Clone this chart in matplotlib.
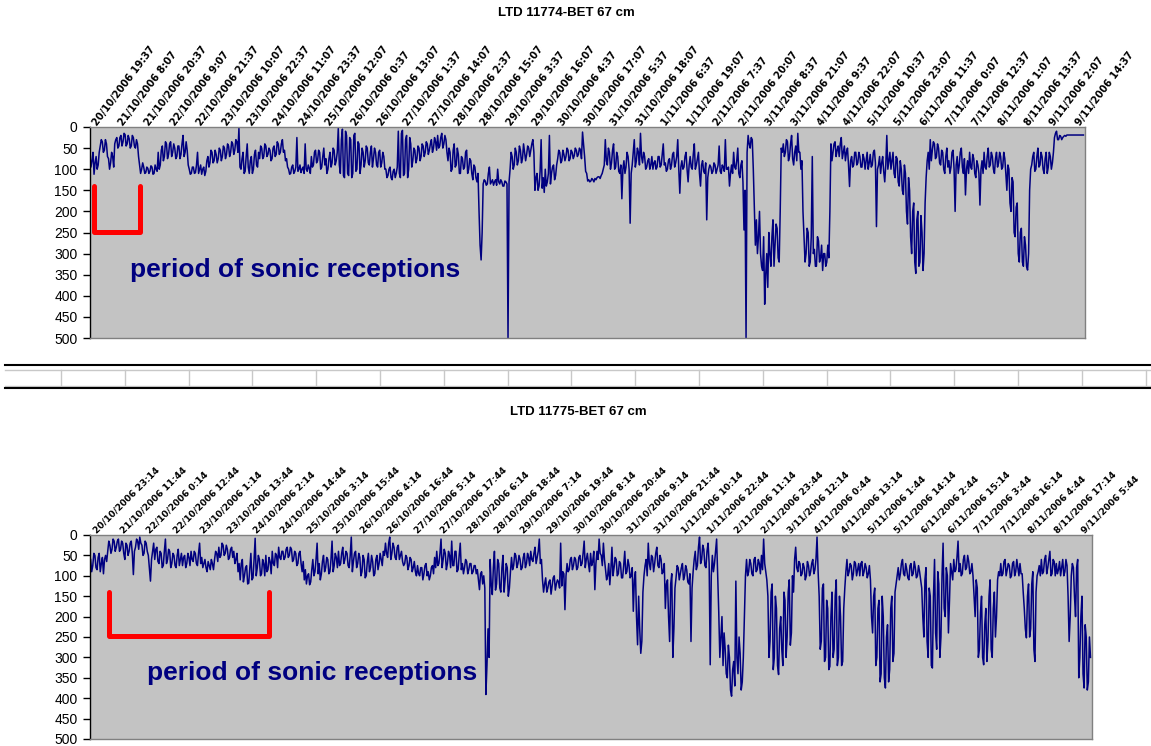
import numpy as np
import matplotlib
matplotlib.use("Agg")
import matplotlib.pyplot as plt
from matplotlib.lines import Line2D

# ---------------------------------------------------------------- data
# Depth readings (cm) every 30 minutes: *_depth holds the readings on the
# hour, *_depth_half the readings half an hour later.
# Hours are counted from the first axis label.
top_title = "LTD 11774-BET 67 cm"
top_t0 = -2.45
top_depth = [
    65, 80, 112, 70, 90, 45, 35, 55, 40, 75,
    85, 70, 40, 25, 45, 20, 35, 18, 40, 28,
    45, 25, 50, 40, 90, 100, 95, 108, 98, 105,
    95, 110, 100, 60, 90, 45, 70, 40, 65, 35,
    60, 50, 70, 45, 65, 20, 60, 55, 100, 110,
    95, 108, 60, 100, 112, 95, 105, 70, 85, 60,
    80, 65, 75, 55, 70, 50, 65, 45, 60, 40,
    55, 35, 3, 100, 60, 105, 40, 110, 70, 100,
    55, 95, 75, 50, 70, 45, 65, 55, 75, 45,
    65, 40, 60, 30, 55, 75, 100, 110, 90, 105,
    25, 100, 108, 95, 40, 105, 98, 70, 90, 55,
    80, 60, 95, 50, 75, 100, 60, 85, 55, 80,
    3, 110, 5, 120, 20, 115, 30, 110, 15, 100,
    40, 90, 60, 80, 50, 90, 45, 75, 60, 95,
    55, 85, 70, 100, 115, 95, 125, 100, 110, 10,
    120, 8, 110, 20, 100, 40, 80, 55, 75, 50,
    70, 45, 60, 40, 55, 30, 50, 35, 20, 45,
    15, 40, 30, 80, 60, 100, 40, 90, 65, 110,
    75, 95, 55, 100, 80, 125, 95, 130, 200, 315,
    135, 128, 135, 95, 130, 138, 125, 100, 135, 130,
    140, 130, 500, 100, 70, 90, 60, 80, 55, 75,
    60, 65, 50, 55, 30, 150, 110, 140, 30, 120,
    100, 130, 20, 110, 90, 115, 75, 60, 80, 65,
    70, 55, 75, 60, 68, 55, 65, 55, 12, 70,
    110, 125, 128, 125, 122, 120, 118, 115, 100, 30,
    90, 60, 85, 40, 95, 70, 110, 170, 80, 95,
    70, 228, 90, 30, 80, 60, 15, 85, 70, 95,
    75, 90, 100, 80, 95, 70, 90, 40, 85, 100,
    75, 90, 60, 85, 30, 157, 80, 95, 60, 130,
    70, 100, 40, 90, 60, 140, 80, 110, 220, 100,
    95, 105, 90, 100, 45, 110, 95, 30, 100, 140,
    90, 60, 100, 50, 120, 80, 244, 500, 20, 50,
    30, 190, 220, 260, 300, 340, 420, 300, 250, 330,
    220, 280, 240, 320, 50, 40, 60, 35, 70, 20,
    90, 45, 15, 60, 80, 260, 300, 250, 320, 70,
    290, 330, 270, 310, 340, 300, 320, 310, 40, 60,
    35, 55, 70, 25, 60, 80, 50, 141, 70, 90,
    60, 85, 70, 95, 75, 80, 100, 65, 90, 55,
    236, 90, 110, 70, 130, 20, 80, 100, 60, 120,
    75, 140, 100, 160, 110, 230, 150, 300, 180, 347,
    200, 320, 250, 300, 120, 60, 30, 55, 40, 70,
    50, 90, 60, 110, 50, 80, 95, 55, 200, 70,
    90, 50, 110, 161, 80, 60, 100, 75, 120, 90,
    185, 80, 60, 100, 50, 90, 70, 110, 60, 85,
    70, 95, 75, 150, 100, 200, 130, 260, 180, 320,
    240, 330, 280, 339, 150, 90, 60, 100, 50, 90,
    70, 110, 60, 95, 70, 85, 25, 10, 30, 22,
    25, 20, 19, 19, 19, 19, 19, 19, 19, 19,
    19,
]
top_depth_half = [
    95, 60, 85, 100, 60, 30, 60, 30, 70, 100,
    60, 95, 30, 50, 25, 45, 15, 45, 20, 50,
    20, 45, 30, 70, 110, 85, 110, 95, 110, 92,
    112, 90, 105, 100, 55, 80, 35, 75, 40, 70,
    40, 75, 45, 75, 40, 70, 35, 90, 112, 95,
    110, 90, 110, 90, 100, 115, 80, 95, 55, 85,
    55, 85, 50, 80, 45, 75, 40, 70, 35, 65,
    30, 60, 95, 75, 110, 70, 95, 80, 110, 65,
    90, 60, 45, 75, 40, 70, 50, 80, 50, 70,
    35, 65, 40, 60, 80, 95, 112, 95, 110, 95,
    105, 90, 100, 110, 100, 90, 110, 95, 60, 85,
    55, 100, 70, 90, 110, 75, 95, 50, 90, 60,
    90, 30, 115, 10, 110, 25, 120, 20, 105, 35,
    110, 50, 95, 45, 85, 60, 95, 50, 90, 60,
    95, 60, 100, 120, 100, 120, 105, 120, 95, 110,
    15, 115, 30, 120, 25, 95, 50, 85, 45, 80,
    40, 70, 35, 65, 40, 60, 25, 55, 50, 25,
    50, 20, 60, 50, 105, 55, 95, 50, 110, 70,
    100, 60, 110, 75, 110, 90, 120, 110, 280, 250,
    125, 138, 110, 135, 125, 130, 138, 130, 125, 140,
    128, 135, 130, 60, 100, 50, 90, 45, 85, 40,
    80, 45, 70, 40, 60, 120, 150, 105, 145, 155,
    140, 110, 135, 95, 125, 90, 55, 85, 55, 80,
    50, 80, 55, 75, 50, 70, 50, 75, 40, 105,
    128, 130, 122, 130, 125, 118, 122, 110, 90, 80,
    50, 100, 55, 100, 60, 105, 90, 100, 110, 60,
    100, 110, 60, 95, 50, 90, 70, 60, 100, 80,
    100, 70, 85, 100, 70, 95, 65, 90, 105, 80,
    100, 65, 95, 70, 100, 95, 100, 70, 100, 90,
    95, 65, 100, 75, 110, 90, 105, 85, 120, 90,
    110, 85, 110, 90, 105, 90, 105, 100, 95, 110,
    110, 95, 80, 110, 90, 130, 150, 60, 40, 25,
    100, 280, 300, 200, 330, 260, 350, 380, 300, 260,
    330, 230, 310, 200, 60, 70, 30, 80, 40, 75,
    60, 80, 60, 100, 200, 320, 240, 330, 260, 300,
    330, 260, 320, 280, 300, 330, 280, 200, 80, 40,
    70, 45, 40, 75, 45, 60, 90, 80, 95, 60,
    90, 60, 95, 65, 100, 60, 85, 95, 60, 85,
    100, 70, 85, 105, 90, 100, 60, 80, 110, 70,
    130, 80, 150, 90, 200, 120, 260, 200, 320, 220,
    330, 210, 340, 180, 80, 100, 80, 35, 75, 40,
    85, 55, 100, 70, 95, 110, 60, 100, 90, 110,
    60, 95, 75, 100, 110, 95, 65, 110, 80, 110,
    100, 110, 95, 70, 95, 60, 100, 75, 95, 60,
    100, 60, 110, 90, 180, 120, 250, 190, 300, 250,
    320, 260, 330, 300, 100, 70, 105, 70, 95, 60,
    100, 75, 110, 60, 100, 60, 15, 30, 20, 30,
    22, 22, 19, 19, 19, 19, 19, 19, 19, 19,
]

bottom_title = "LTD 11775-BET 67 cm"
bottom_t0 = -2.0
bottom_depth = [
    60, 75, 50, 85, 45, 70, 95, 50, 40, 25,
    35, 15, 30, 10, 35, 20, 60, 25, 40, 15,
    97, 30, 15, 5, 25, 45, 20, 50, 113, 40,
    60, 30, 70, 45, 75, 10, 60, 40, 70, 50,
    80, 35, 60, 75, 50, 70, 55, 40, 65, 45,
    75, 20, 55, 70, 80, 65, 85, 70, 60, 45,
    30, 50, 25, 45, 35, 55, 30, 40, 60, 90,
    110, 60, 100, 75, 118, 45, 105, 8, 80, 60,
    95, 70, 50, 85, 65, 40, 75, 50, 30, 60,
    40, 55, 30, 50, 35, 60, 45, 70, 40, 90,
    110, 120, 95, 115, 60, 90, 20, 70, 95, 50,
    80, 60, 90, 15, 75, 55, 40, 70, 30, 60,
    45, 80, 5, 65, 40, 70, 55, 90, 60, 100,
    45, 80, 65, 95, 50, 70, 60, 40, 20, 55,
    5, 45, 30, 60, 25, 50, 65, 70, 55, 75,
    60, 80, 90, 75, 100, 80, 95, 70, 90, 100,
    75, 55, 40, 70, 10, 60, 45, 70, 50, 15,
    75, 40, 85, 20, 70, 80, 65, 85, 70, 90,
    75, 85, 134, 90, 100, 391, 230, 60, 146, 40,
    120, 70, 140, 50, 110, 80, 130, 55, 75, 50,
    70, 60, 80, 45, 70, 55, 40, 65, 30, 55,
    10, 60, 140, 105, 130, 110, 125, 100, 120, 115,
    20, 90, 183, 70, 85, 55, 75, 60, 80, 50,
    70, 15, 60, 70, 45, 65, 134, 40, 10, 50,
    20, 85, 100, 122, 30, 80, 60, 95, 70, 105,
    40, 90, 75, 100, 187, 90, 269, 230, 260, 100,
    60, 20, 85, 55, 70, 30, 80, 60, 90, 180,
    110, 261, 95, 230, 105, 80, 95, 70, 100, 85,
    120, 261, 90, 40, 75, 5, 60, 35, 80, 20,
    318, 50, 70, 10, 190, 250, 320, 280, 350, 300,
    395, 310, 113, 340, 290, 360, 200, 60, 90, 70,
    100, 55, 85, 70, 50, 10, 90, 150, 260, 120,
    300, 180, 342, 200, 320, 160, 250, 110, 240, 140,
    30, 90, 70, 95, 80, 100, 75, 90, 60, 85,
    5, 150, 260, 120, 300, 180, 322, 140, 280, 110,
    300, 200, 310, 130, 60, 90, 75, 95, 70, 85,
    100, 65, 90, 80, 95, 110, 240, 130, 300, 160,
    340, 200, 375, 220, 330, 150, 290, 120, 80, 95,
    60, 100, 85, 110, 70, 95, 80, 100, 90, 130,
    250, 80, 300, 150, 326, 60, 280, 120, 250, 20,
    200, 100, 160, 90, 60, 85, 15, 70, 95, 50,
    80, 65, 90, 100, 200, 130, 280, 150, 318, 180,
    260, 110, 300, 140, 200, 90, 70, 95, 60, 85,
    75, 100, 65, 90, 80, 70, 95, 180, 252, 120,
    230, 90, 310, 100, 75, 60, 90, 50, 80, 40,
    95, 65, 70, 85, 100, 60, 90, 75, 261, 100,
    80, 200, 60, 300, 150, 375, 250, 360, 300,
]
bottom_depth_half = [
    90, 45, 80, 55, 90, 55, 60, 65, 15, 45,
    10, 40, 15, 40, 15, 45, 20, 50, 20, 45,
    40, 10, 35, 20, 50, 15, 40, 80, 60, 20,
    35, 65, 40, 80, 40, 70, 35, 80, 45, 75,
    50, 75, 45, 55, 80, 45, 75, 60, 40, 70,
    45, 70, 80, 60, 90, 75, 60, 85, 40, 65,
    55, 20, 50, 25, 60, 35, 55, 70, 45, 70,
    70, 115, 80, 120, 80, 110, 60, 100, 50, 100,
    60, 100, 90, 55, 95, 70, 45, 80, 55, 40,
    60, 35, 55, 30, 65, 40, 75, 45, 70, 65,
    85, 100, 122, 85, 100, 60, 95, 110, 65, 90,
    55, 95, 60, 90, 45, 80, 75, 45, 70, 40,
    75, 50, 90, 45, 80, 45, 100, 50, 105, 65,
    90, 50, 100, 60, 85, 45, 75, 50, 45, 20,
    60, 20, 55, 30, 60, 40, 75, 50, 85, 55,
    90, 65, 100, 95, 80, 110, 75, 100, 110, 80,
    95, 80, 75, 45, 80, 35, 85, 40, 80, 75,
    40, 90, 50, 85, 95, 60, 95, 70, 95, 75,
    95, 110, 95, 120, 130, 320, 300, 120, 80, 135,
    60, 130, 80, 140, 70, 150, 90, 85, 45, 80,
    50, 85, 55, 80, 45, 75, 60, 45, 70, 40,
    70, 110, 120, 140, 115, 145, 105, 135, 110, 130,
    125, 95, 100, 90, 60, 85, 55, 85, 55, 75,
    45, 80, 45, 90, 75, 40, 70, 60, 45, 75,
    60, 110, 70, 85, 100, 55, 100, 65, 105, 75,
    95, 60, 105, 80, 110, 200, 150, 290, 140, 75,
    100, 70, 50, 90, 45, 75, 50, 95, 70, 120,
    200, 120, 300, 130, 75, 110, 80, 110, 75, 115,
    95, 130, 60, 85, 30, 70, 25, 75, 40, 70,
    100, 90, 40, 100, 300, 200, 240, 340, 270, 380,
    330, 370, 300, 250, 380, 300, 100, 100, 60, 95,
    60, 90, 60, 95, 85, 70, 110, 300, 140, 330,
    150, 320, 230, 280, 140, 300, 140, 270, 100, 60,
    80, 65, 100, 70, 110, 65, 100, 70, 95, 60,
    90, 280, 130, 310, 160, 330, 200, 300, 150, 320,
    150, 320, 180, 90, 100, 70, 110, 65, 100, 70,
    70, 100, 70, 105, 75, 200, 150, 320, 180, 360,
    150, 350, 250, 360, 180, 310, 140, 100, 110, 70,
    95, 70, 105, 75, 100, 65, 105, 75, 110, 200,
    110, 260, 130, 320, 150, 240, 90, 300, 100, 180,
    80, 240, 70, 110, 90, 55, 90, 100, 60, 85,
    50, 95, 70, 150, 110, 300, 190, 300, 220, 310,
    150, 280, 180, 250, 110, 100, 100, 65, 100, 70,
    105, 70, 100, 60, 100, 95, 140, 230, 150, 250,
    120, 280, 140, 90, 100, 95, 60, 95, 60, 100,
    60, 100, 95, 65, 80, 100, 60, 150, 200, 70,
    150, 80, 350, 200, 340, 220, 380, 250,
]

top_labels = [
    "20/10/2006 19:37", "21/10/2006 8:07", "21/10/2006 20:37", "22/10/2006 9:07",
    "22/10/2006 21:37", "23/10/2006 10:07", "23/10/2006 22:37", "24/10/2006 11:07",
    "24/10/2006 23:37", "25/10/2006 12:07", "26/10/2006 0:37", "26/10/2006 13:07",
    "27/10/2006 1:37", "27/10/2006 14:07", "28/10/2006 2:37", "28/10/2006 15:07",
    "29/10/2006 3:37", "29/10/2006 16:07", "30/10/2006 4:37", "30/10/2006 17:07",
    "31/10/2006 5:37", "31/10/2006 18:07", "1/11/2006 6:37", "1/11/2006 19:07",
    "2/11/2006 7:37", "2/11/2006 20:07", "3/11/2006 8:37", "3/11/2006 21:07",
    "4/11/2006 9:37", "4/11/2006 22:07", "5/11/2006 10:37", "5/11/2006 23:07",
    "6/11/2006 11:37", "7/11/2006 0:07", "7/11/2006 12:37", "8/11/2006 1:07",
    "8/11/2006 13:37", "9/11/2006 2:07", "9/11/2006 14:37",
]
bottom_labels = [
    "20/10/2006 23:14", "21/10/2006 11:44", "22/10/2006 0:14", "22/10/2006 12:44",
    "23/10/2006 1:14", "23/10/2006 13:44", "24/10/2006 2:14", "24/10/2006 14:44",
    "25/10/2006 3:14", "25/10/2006 15:44", "26/10/2006 4:14", "26/10/2006 16:44",
    "27/10/2006 5:14", "27/10/2006 17:44", "28/10/2006 6:14", "28/10/2006 18:44",
    "29/10/2006 7:14", "29/10/2006 19:44", "30/10/2006 8:14", "30/10/2006 20:44",
    "31/10/2006 9:14", "31/10/2006 21:44", "1/11/2006 10:14", "1/11/2006 22:44",
    "2/11/2006 11:14", "2/11/2006 23:44", "3/11/2006 12:14", "4/11/2006 0:44",
    "4/11/2006 13:14", "5/11/2006 1:44", "5/11/2006 14:14", "6/11/2006 2:44",
    "6/11/2006 15:14", "7/11/2006 3:44", "7/11/2006 16:14", "8/11/2006 4:44",
    "8/11/2006 17:14", "9/11/2006 5:44",
]
label_step_h = 12.5

annotation = "period of sonic receptions"
# sonic-reception window (hours) for each logger
top_window = (-0.3, 21.7)
bottom_window = (6.5, 81.6)

# ---------------------------------------------------------------- style
W, H = 1151, 746
LINE = "#000080"
PLOT_BG = "#C3C3C3"
FRAME = "#808080"

fig = plt.figure(figsize=(W / 100, H / 100), dpi=100)
fig.patch.set_facecolor("white")


def fig_rect(x0, y0, x1, y1):
    """Pixel box (top-left origin) -> figure fraction rect."""
    return [x0 / W, 1 - y1 / H, (x1 - x0) / W, (y1 - y0) / H]


def half_hourly(t0, on_hour, half_past):
    """Merge the two reading lists into one time-ordered series."""
    on_hour = np.asarray(on_hour, float)
    half_past = np.asarray(half_past, float)
    n = len(on_hour) + len(half_past)
    depth = np.empty(n)
    depth[0::2] = on_hour
    depth[1::2] = half_past
    hours = t0 + 0.5 * np.arange(n)
    return hours, depth


def draw_panel(rect, t0, on_hour, half_past, labels, xlim, window, text_at,
               label_rot, label_size):
    ax = fig.add_axes(rect)
    ax.set_facecolor(PLOT_BG)
    hours, depth = half_hourly(t0, on_hour, half_past)
    ax.plot(hours, depth, color=LINE, lw=1.1)
    ax.set_xlim(*xlim)
    ax.set_ylim(500, 0)
    ax.set_yticks(np.arange(0, 501, 50))
    ax.tick_params(axis="y", direction="out", length=5, width=1, pad=4,
                   labelsize=10, colors="black")
    for lab in ax.get_yticklabels():
        lab.set_fontfamily("Liberation Sans")

    ticks = np.arange(len(labels)) * label_step_h
    ax.set_xticks(ticks)
    ax.set_xticklabels(labels, rotation=label_rot, ha="left", va="center",
                       rotation_mode="anchor", fontsize=label_size,
                       fontweight="bold", fontfamily="DejaVu Sans")
    ax.tick_params(axis="x", top=False, bottom=False, labeltop=True,
                   labelbottom=False, length=0, pad=2)

    for side in ("top", "right", "bottom"):
        ax.spines[side].set_color(FRAME)
        ax.spines[side].set_linewidth(1)
    ax.spines["left"].set_color("black")
    ax.spines["left"].set_linewidth(1)

    # bracket marking the reception period
    wx0, wx1 = window
    ax.plot([wx0, wx0, wx1, wx1], [140, 248, 248, 140], color="#FF0000",
            lw=3.6, solid_capstyle="round", solid_joinstyle="round")
    ax.text(text_at[0], text_at[1], annotation, color=LINE, fontsize=19,
            fontweight="bold", fontfamily="Liberation Sans", va="baseline",
            ha="left")
    return ax


draw_panel(fig_rect(90, 127, 1085, 338), top_t0, top_depth, top_depth_half,
           top_labels, (-2.4, 478.3), top_window, (16.9, 355), 53, 7.1)
draw_panel(fig_rect(90, 535, 1092, 739), bottom_t0, bottom_depth,
           bottom_depth_half, bottom_labels, (-2.3, 466.7), bottom_window,
           (24.2, 355), 45, 6.6)

fig.text(566 / W, 1 - 13 / H, top_title, ha="center", va="center",
         fontsize=9.5, fontweight="bold", fontfamily="Liberation Sans")
fig.text(578 / W, 1 - 412 / H, bottom_title, ha="center", va="center",
         fontsize=9.5, fontweight="bold", fontfamily="Liberation Sans")

# spreadsheet rows visible between the two charts
grid = fig.add_axes([0, 0, 1, 1])
grid.set_xlim(0, W)
grid.set_ylim(H, 0)
grid.axis("off")
grid.add_line(Line2D([5, W], [370, 370], color="#C8C8C8", lw=1))
grid.add_line(Line2D([5, W], [386, 386], color="#C8C8C8", lw=1))
for gx in np.arange(61, W, 63.8):
    grid.add_line(Line2D([gx, gx], [370, 386], color="#C8C8C8", lw=1))
grid.add_line(Line2D([5, W], [365, 365], color="black", lw=1.5))
grid.add_line(Line2D([5, W], [388, 388], color="black", lw=1.5))

fig.savefig("out.png", dpi=100, facecolor="white")
